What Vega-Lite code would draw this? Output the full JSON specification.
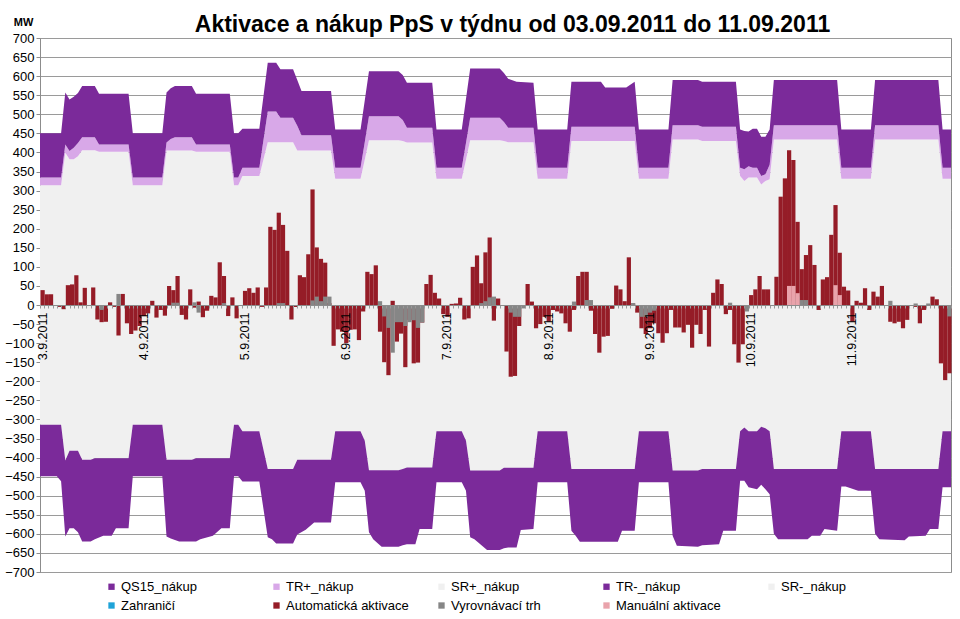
{
  "$schema": "https://vega.github.io/schema/vega-lite/v6.json",
  "autosize": {"type": "none"},
  "width": 911,
  "height": 534,
  "padding": {"left": 40, "top": 38, "right": 9, "bottom": 47},
  "background": "white",
  "title": {"text": "Aktivace a nákup PpS v týdnu od 03.09.2011 do 11.09.2011", "anchor": "middle", "frame": "group", "offset": 2, "dx": 17, "dy": 23, "fontSize": 23, "fontWeight": "bold", "color": "black", "font": "Liberation Sans"},
  "config": {"font": "Liberation Sans", "view": {"stroke": "#8c8c8c"}},
  "datasets": {
    "pos": [
      {"h":0,"sr":314,"tr":334,"qs":450},{"h":5,"sr":314,"tr":334,"qs":450},{"h":6,"sr":399,"tr":421,"qs":557},{"h":7,"sr":382,"tr":404,"qs":539},{"h":8,"sr":382,"tr":412,"qs":546},{"h":9,"sr":390,"tr":425,"qs":556},{"h":10,"sr":406,"tr":440,"qs":574},{"h":13,"sr":406,"tr":440,"qs":574},{"h":14,"sr":402,"tr":421,"qs":554},{"h":21,"sr":402,"tr":421,"qs":554},{"h":22,"sr":314,"tr":334,"qs":450},{"h":29,"sr":314,"tr":334,"qs":450},{"h":30,"sr":405,"tr":426,"qs":557},{"h":31,"sr":405,"tr":435,"qs":568},{"h":32,"sr":405,"tr":440,"qs":574},{"h":36,"sr":405,"tr":440,"qs":574},{"h":37,"sr":402,"tr":421,"qs":554},{"h":45,"sr":402,"tr":421,"qs":554},{"h":46,"sr":314,"tr":334,"qs":450},{"h":47,"sr":314,"tr":334,"qs":450},{"h":48,"sr":338,"tr":360,"qs":462},{"h":52,"sr":338,"tr":360,"qs":462},{"h":54,"sr":427,"tr":507,"qs":635},{"h":56,"sr":427,"tr":507,"qs":635},{"h":57,"sr":427,"tr":491,"qs":618},{"h":60,"sr":427,"tr":491,"qs":618},{"h":61,"sr":405,"tr":470,"qs":590},{"h":62,"sr":405,"tr":445,"qs":561},{"h":69,"sr":405,"tr":445,"qs":561},{"h":70,"sr":331,"tr":360,"qs":460},{"h":76,"sr":331,"tr":360,"qs":460},{"h":77,"sr":381,"tr":427,"qs":536},{"h":78,"sr":432,"tr":495,"qs":613},{"h":85,"sr":432,"tr":495,"qs":613},{"h":86,"sr":430,"tr":485,"qs":603},{"h":87,"sr":426,"tr":465,"qs":583},{"h":93,"sr":426,"tr":465,"qs":583},{"h":94,"sr":331,"tr":360,"qs":460},{"h":100,"sr":331,"tr":360,"qs":460},{"h":101,"sr":381,"tr":425,"qs":540},{"h":102,"sr":432,"tr":491,"qs":620},{"h":109,"sr":432,"tr":491,"qs":620},{"h":110,"sr":430,"tr":480,"qs":608},{"h":111,"sr":427,"tr":465,"qs":593},{"h":113,"sr":427,"tr":465,"qs":585},{"h":117,"sr":427,"tr":465,"qs":583},{"h":118,"sr":331,"tr":360,"qs":460},{"h":125,"sr":331,"tr":360,"qs":460},{"h":126,"sr":430,"tr":467,"qs":585},{"h":133,"sr":430,"tr":467,"qs":585},{"h":134,"sr":430,"tr":467,"qs":570},{"h":139,"sr":430,"tr":467,"qs":570},{"h":141,"sr":430,"tr":467,"qs":585},{"h":142,"sr":331,"tr":360,"qs":460},{"h":149,"sr":331,"tr":360,"qs":460},{"h":150,"sr":434,"tr":471,"qs":590},{"h":156,"sr":434,"tr":471,"qs":590},{"h":157,"sr":430,"tr":467,"qs":585},{"h":165,"sr":430,"tr":467,"qs":585},{"h":166,"sr":338,"tr":360,"qs":460},{"h":167,"sr":325,"tr":356,"qs":456},{"h":168,"sr":334,"tr":364,"qs":455},{"h":169,"sr":334,"tr":360,"qs":462},{"h":170,"sr":334,"tr":360,"qs":462},{"h":171,"sr":316,"tr":338,"qs":441},{"h":172,"sr":325,"tr":343,"qs":441},{"h":173,"sr":330,"tr":368,"qs":460},{"h":174,"sr":434,"tr":471,"qs":590},{"h":189,"sr":434,"tr":471,"qs":590},{"h":190,"sr":331,"tr":360,"qs":460},{"h":197,"sr":331,"tr":360,"qs":460},{"h":198,"sr":434,"tr":471,"qs":590},{"h":213,"sr":434,"tr":471,"qs":590},{"h":214,"sr":331,"tr":360,"qs":460},{"h":216,"sr":331,"tr":360,"qs":460}
    ],
    "neg": [
      {"h":0,"srm":-314,"trm":-449},{"h":4,"srm":-314,"trm":-449},{"h":5,"srm":-314,"trm":-462},{"h":6,"srm":-408,"trm":-607},{"h":7,"srm":-382,"trm":-585},{"h":8,"srm":-382,"trm":-585},{"h":9,"srm":-382,"trm":-596},{"h":10,"srm":-406,"trm":-620},{"h":12,"srm":-406,"trm":-620},{"h":13,"srm":-402,"trm":-614},{"h":15,"srm":-402,"trm":-605},{"h":17,"srm":-402,"trm":-605},{"h":18,"srm":-402,"trm":-585},{"h":21,"srm":-402,"trm":-585},{"h":22,"srm":-314,"trm":-449},{"h":29,"srm":-314,"trm":-449},{"h":30,"srm":-406,"trm":-607},{"h":31,"srm":-406,"trm":-612},{"h":33,"srm":-406,"trm":-620},{"h":36,"srm":-406,"trm":-620},{"h":37,"srm":-402,"trm":-620},{"h":38,"srm":-402,"trm":-614},{"h":41,"srm":-402,"trm":-605},{"h":43,"srm":-402,"trm":-585},{"h":45,"srm":-402,"trm":-585},{"h":46,"srm":-314,"trm":-449},{"h":47,"srm":-314,"trm":-449},{"h":48,"srm":-331,"trm":-463},{"h":52,"srm":-331,"trm":-463},{"h":54,"srm":-430,"trm":-609},{"h":55,"srm":-430,"trm":-614},{"h":56,"srm":-430,"trm":-625},{"h":60,"srm":-430,"trm":-625},{"h":61,"srm":-406,"trm":-602},{"h":63,"srm":-406,"trm":-589},{"h":65,"srm":-406,"trm":-570},{"h":69,"srm":-406,"trm":-570},{"h":70,"srm":-331,"trm":-465},{"h":76,"srm":-331,"trm":-465},{"h":77,"srm":-356,"trm":-487},{"h":78,"srm":-433,"trm":-596},{"h":79,"srm":-433,"trm":-614},{"h":81,"srm":-433,"trm":-634},{"h":85,"srm":-433,"trm":-634},{"h":86,"srm":-430,"trm":-630},{"h":87,"srm":-426,"trm":-627},{"h":89,"srm":-426,"trm":-627},{"h":90,"srm":-426,"trm":-587},{"h":93,"srm":-426,"trm":-587},{"h":94,"srm":-331,"trm":-465},{"h":100,"srm":-331,"trm":-465},{"h":101,"srm":-356,"trm":-487},{"h":102,"srm":-434,"trm":-609},{"h":103,"srm":-434,"trm":-614},{"h":106,"srm":-434,"trm":-642},{"h":109,"srm":-434,"trm":-642},{"h":110,"srm":-427,"trm":-638},{"h":111,"srm":-427,"trm":-636},{"h":113,"srm":-427,"trm":-636},{"h":114,"srm":-427,"trm":-590},{"h":117,"srm":-427,"trm":-587},{"h":118,"srm":-331,"trm":-465},{"h":125,"srm":-331,"trm":-465},{"h":126,"srm":-430,"trm":-592},{"h":127,"srm":-430,"trm":-605},{"h":128,"srm":-430,"trm":-621},{"h":137,"srm":-430,"trm":-621},{"h":138,"srm":-430,"trm":-592},{"h":141,"srm":-430,"trm":-592},{"h":142,"srm":-331,"trm":-465},{"h":149,"srm":-331,"trm":-465},{"h":150,"srm":-434,"trm":-605},{"h":151,"srm":-434,"trm":-631},{"h":156,"srm":-434,"trm":-634},{"h":157,"srm":-430,"trm":-630},{"h":161,"srm":-430,"trm":-627},{"h":162,"srm":-430,"trm":-592},{"h":165,"srm":-430,"trm":-592},{"h":166,"srm":-331,"trm":-461},{"h":167,"srm":-321,"trm":-461},{"h":168,"srm":-331,"trm":-478},{"h":170,"srm":-331,"trm":-483},{"h":171,"srm":-319,"trm":-471},{"h":172,"srm":-323,"trm":-483},{"h":173,"srm":-331,"trm":-496},{"h":174,"srm":-430,"trm":-600},{"h":175,"srm":-430,"trm":-614},{"h":182,"srm":-430,"trm":-614},{"h":183,"srm":-430,"trm":-605},{"h":185,"srm":-430,"trm":-605},{"h":186,"srm":-430,"trm":-587},{"h":189,"srm":-430,"trm":-592},{"h":190,"srm":-331,"trm":-476},{"h":191,"srm":-331,"trm":-476},{"h":194,"srm":-331,"trm":-487},{"h":197,"srm":-331,"trm":-487},{"h":198,"srm":-430,"trm":-600},{"h":199,"srm":-430,"trm":-614},{"h":205,"srm":-430,"trm":-617},{"h":206,"srm":-430,"trm":-607},{"h":210,"srm":-430,"trm":-605},{"h":211,"srm":-430,"trm":-587},{"h":213,"srm":-430,"trm":-587},{"h":214,"srm":-331,"trm":-478},{"h":216,"srm":-331,"trm":-478}
    ],
    "auto": [
      {"h":0,"v":39},{"h":1,"v":28},{"h":2,"v":28},{"h":4,"v":-5},{"h":5,"v":-11},{"h":6,"v":52},{"h":7,"v":54},{"h":8,"v":78},{"h":9,"v":7},{"h":10,"v":45},{"h":12,"v":46},{"h":13,"v":-38},{"h":14,"v":-45},{"h":15,"v":-44},{"h":16,"v":7},{"h":17,"v":-5},{"h":18,"v":-80},{"h":19,"v":29},{"h":20,"v":-48},{"h":21,"v":-76},{"h":22,"v":-67},{"h":23,"v":-55},{"h":24,"v":-29},{"h":25,"v":-22},{"h":26,"v":11},{"h":27,"v":-33},{"h":28,"v":-13},{"h":29,"v":-28},{"h":30,"v":50},{"h":31,"v":39},{"h":32,"v":76},{"h":33,"v":-26},{"h":34,"v":-38},{"h":35,"v":41},{"h":36,"v":-7},{"h":37,"v":9},{"h":38,"v":-32},{"h":39,"v":-15},{"h":40,"v":24},{"h":41,"v":20},{"h":42,"v":112},{"h":43,"v":76},{"h":44,"v":-29},{"h":45,"v":20},{"h":46,"v":-35},{"h":48,"v":37},{"h":49,"v":44},{"h":50,"v":32},{"h":51,"v":46},{"h":52,"v":-5},{"h":53,"v":46},{"h":54,"v":205},{"h":55,"v":197},{"h":56,"v":242},{"h":57,"v":210},{"h":58,"v":142},{"h":59,"v":-38},{"h":60,"v":-5},{"h":61,"v":78},{"h":62,"v":73},{"h":63,"v":133},{"h":64,"v":303},{"h":65,"v":151},{"h":66,"v":121},{"h":67,"v":111},{"h":68,"v":5},
      {"h":69,"v":-107},{"h":70,"v":-64},{"h":71,"v":-70},{"h":72,"v":-100},{"h":73,"v":-65},{"h":74,"v":-64},{"h":75,"v":-92},{"h":76,"v":-17},{"h":77,"v":87},{"h":78,"v":81},{"h":79,"v":104},{"h":80,"v":-70},{"h":81,"v":-150},{"h":82,"v":-184},{"h":83,"v":11},{"h":84,"v":-96},{"h":85,"v":-75},{"h":86,"v":-163},{"h":87,"v":-39},{"h":88,"v":-153},{"h":89,"v":-151},{"h":90,"v":-46},{"h":91,"v":55},{"h":92,"v":79},{"h":93,"v":32},{"h":94,"v":17},{"h":95,"v":-24},{"h":96,"v":-31},{"h":97,"v":3},{"h":98,"v":4},{"h":99,"v":19},{"h":100,"v":-38},{"h":101,"v":-35},{"h":102,"v":100},{"h":103,"v":130},{"h":104,"v":57},{"h":105,"v":138},{"h":106,"v":177},{"h":107,"v":-41},{"h":108,"v":17},{"h":110,"v":-122},{"h":111,"v":-188},{"h":112,"v":-186},{"h":113,"v":-55},{"h":115,"v":55},{"h":116,"v":9},{"h":117,"v":-61},{"h":118,"v":-50},{"h":119,"v":-31},{"h":120,"v":-44},{"h":121,"v":-13},{"h":122,"v":-17},{"h":123,"v":-22},{"h":124,"v":-48},{"h":125,"v":-70},{"h":126,"v":-13},{"h":127,"v":76},{"h":128,"v":87},{"h":129,"v":87},{"h":130,"v":-15},{"h":131,"v":-76},{"h":132,"v":-125},{"h":133,"v":-83},{"h":134,"v":-81},{"h":135,"v":-10},{"h":136,"v":51},{"h":137,"v":41},{"h":138,"v":10},{"h":139,"v":125},{"h":140,"v":4},{"h":141,"v":-20},{"h":142,"v":-61},{"h":143,"v":-76},
      {"h":144,"v":-61},{"h":145,"v":-48},{"h":146,"v":-74},{"h":147,"v":-99},{"h":148,"v":-74},{"h":149,"v":-13},{"h":150,"v":-59},{"h":151,"v":-59},{"h":152,"v":-72},{"h":153,"v":-52},{"h":154,"v":-112},{"h":155,"v":-52},{"h":156,"v":-76},{"h":157,"v":-13},{"h":158,"v":-109},{"h":159,"v":32},{"h":160,"v":67},{"h":161,"v":55},{"h":162,"v":-24},{"h":163,"v":-13},{"h":164,"v":-103},{"h":165,"v":-151},{"h":166,"v":-103},{"h":167,"v":-5},{"h":168,"v":26},{"h":169,"v":41},{"h":170,"v":76},{"h":171,"v":41},{"h":172,"v":41},{"h":174,"v":74},{"h":175,"v":284},{"h":176,"v":332},{"h":177,"v":406},{"h":178,"v":380},{"h":179,"v":218},{"h":180,"v":94},{"h":181,"v":131},{"h":182,"v":157},{"h":183,"v":105},{"h":184,"v":-13},{"h":185,"v":67},{"h":186,"v":73},{"h":187,"v":184},{"h":188,"v":262},{"h":189,"v":137},{"h":190,"v":48},{"h":191,"v":38},{"h":192,"v":-44},{"h":193,"v":11},{"h":194,"v":6},{"h":195,"v":44},{"h":196,"v":-13},{"h":197,"v":35},{"h":198,"v":22},{"h":199,"v":50},{"h":201,"v":-44},{"h":202,"v":-48},{"h":203,"v":-44},{"h":204,"v":-61},{"h":205,"v":-39},{"h":207,"v":-5},{"h":208,"v":-48},{"h":209,"v":-13},{"h":211,"v":22},{"h":212,"v":15},{"h":213,"v":-153},{"h":214,"v":-197},{"h":215,"v":-179}
    ],
    "vt": [
      {"h":14,"v":-13},{"h":18,"v":29},{"h":31,"v":6},{"h":32,"v":6},{"h":36,"v":7},{"h":37,"v":-20},{"h":43,"v":5},{"h":56,"v":5},{"h":57,"v":5},{"h":64,"v":12},{"h":65,"v":22},{"h":66,"v":10},{"h":67,"v":22},{"h":68,"v":22},{"h":80,"v":10},{"h":81,"v":-30},{"h":82,"v":-60},{"h":83,"v":-125},{"h":84,"v":-45},{"h":85,"v":-45},{"h":86,"v":-55},{"h":87,"v":-45},{"h":88,"v":-40},{"h":89,"v":-60},{"h":90,"v":-46},{"h":104,"v":5},{"h":105,"v":10},{"h":106,"v":20},{"h":107,"v":22},{"h":111,"v":-20},{"h":112,"v":-31},{"h":113,"v":-31},{"h":114,"v":-9},{"h":126,"v":9},{"h":129,"v":13},{"h":130,"v":13},{"h":140,"v":5},{"h":142,"v":-31},{"h":143,"v":-31},{"h":144,"v":-20},{"h":145,"v":-15},{"h":163,"v":6},{"h":167,"v":-17},{"h":177,"v":5},{"h":178,"v":10},{"h":179,"v":22},{"h":180,"v":13},{"h":181,"v":13},{"h":188,"v":8},{"h":201,"v":11},{"h":207,"v":4},{"h":210,"v":4},{"h":215,"v":-30}
    ],
    "man": [
      {"h":177,"v":50},{"h":178,"v":50},{"h":179,"v":31},{"h":188,"v":52},{"h":189,"v":26}
    ]
  },
  "layer": [
    {
      "data": {"name": "pos"},
      "mark": {"type": "area", "opacity": 1, "interpolate": "linear"},
      "encoding": {
        "x": {"field": "h", "type": "quantitative", "scale": {"domain": [0, 216], "nice": false, "zero": false},
          "axis": {"title": null, "orient": "bottom", "offset": -267, "zindex": 1, "tickCount": 216, "labelExpr": "datum.value % 24 == 0 && datum.value < 216 ? (3 + datum.value / 24) + '.9.2011' : ''", "labelAngle": -90, "labelFontSize": 12.5, "labelColor": "black", "labelFlush": false, "labelOverlap": false, "labelPadding": 4, "labelOffset": 2, "tickSize": 3, "tickColor": "#999999", "domainColor": "#8c8c8c", "grid": false}},
        "y": {"field": "sr", "type": "quantitative", "scale": {"domain": [-700, 700], "nice": false},
          "axis": {"title": "MW", "tickCount": 28, "grid": true, "gridColor": "#9a9a9a", "domainColor": "#8c8c8c", "tickColor": "#8c8c8c", "tickSize": 4, "labelFontSize": 13, "labelColor": "black", "labelPadding": 2, "labelFlush": false, "titleAngle": 0, "titleAlign": "center", "titleBaseline": "alphabetic", "titleX": -17, "titleY": -13, "titleFontSize": 11, "titleFontWeight": "bold", "titleColor": "black"}},
        "y2": {"datum": 0},
        "color": {"datum": "SR+_nákup", "type": "nominal",
          "scale": {"domain": ["QS15_nákup","TR+_nákup","SR+_nákup","TR-_nákup","SR-_nákup","Zahraničí","Automatická aktivace","Vyrovnávací trh","Manuální aktivace"], "range": ["#7B2A9A","#D8A8E8","#F0F0F0","#7B2A9A","#F0F0F0","#1FA3D8","#951C27","#868686","#E9A3AB"]},
          "legend": {"title": null, "orient": "none", "legendX": 65, "legendY": 542, "direction": "horizontal", "columns": 5, "gridAlign": "all", "symbolType": "square", "symbolSize": 40, "symbolStrokeWidth": 0, "labelFontSize": 13, "labelColor": "black", "columnPadding": 26, "rowPadding": 5, "labelOffset": 3, "padding": 0}}
      }
    },
    {
      "data": {"name": "pos"},
      "mark": {"type": "area", "opacity": 1, "interpolate": "linear"},
      "encoding": {
        "x": {"field": "h", "type": "quantitative"},
        "y": {"field": "tr", "type": "quantitative", "title": "MW"},
        "y2": {"field": "sr"},
        "color": {"datum": "TR+_nákup", "type": "nominal"}
      }
    },
    {
      "data": {"name": "pos"},
      "mark": {"type": "area", "opacity": 1, "interpolate": "linear"},
      "encoding": {
        "x": {"field": "h", "type": "quantitative"},
        "y": {"field": "qs", "type": "quantitative", "title": "MW"},
        "y2": {"field": "tr"},
        "color": {"datum": "QS15_nákup", "type": "nominal"}
      }
    },
    {
      "data": {"name": "neg"},
      "mark": {"type": "area", "opacity": 1, "interpolate": "linear"},
      "encoding": {
        "x": {"field": "h", "type": "quantitative"},
        "y": {"field": "srm", "type": "quantitative", "title": "MW"},
        "y2": {"datum": 0},
        "color": {"datum": "SR-_nákup", "type": "nominal"}
      }
    },
    {
      "data": {"name": "neg"},
      "mark": {"type": "area", "opacity": 1, "interpolate": "linear"},
      "encoding": {
        "x": {"field": "h", "type": "quantitative"},
        "y": {"field": "trm", "type": "quantitative", "title": "MW"},
        "y2": {"field": "srm"},
        "color": {"datum": "TR-_nákup", "type": "nominal"}
      }
    },
    {
      "data": {"name": "auto"},
      "mark": {"type": "bar", "binSpacing": 0, "opacity": 1},
      "encoding": {
        "x": {"field": "h", "type": "quantitative", "bin": {"binned": true, "step": 1}},
        "y": {"field": "v", "type": "quantitative", "title": "MW"},
        "color": {"datum": "Automatická aktivace", "type": "nominal"}
      }
    },
    {
      "data": {"name": "vt"},
      "mark": {"type": "bar", "binSpacing": 0, "opacity": 1},
      "encoding": {
        "x": {"field": "h", "type": "quantitative", "bin": {"binned": true, "step": 1}},
        "y": {"field": "v", "type": "quantitative", "title": "MW"},
        "color": {"datum": "Vyrovnávací trh", "type": "nominal"}
      }
    },
    {
      "data": {"name": "man"},
      "mark": {"type": "bar", "binSpacing": 0, "opacity": 1},
      "encoding": {
        "x": {"field": "h", "type": "quantitative", "bin": {"binned": true, "step": 1}},
        "y": {"field": "v", "type": "quantitative", "title": "MW"},
        "color": {"datum": "Manuální aktivace", "type": "nominal"}
      }
    }
  ]
}
